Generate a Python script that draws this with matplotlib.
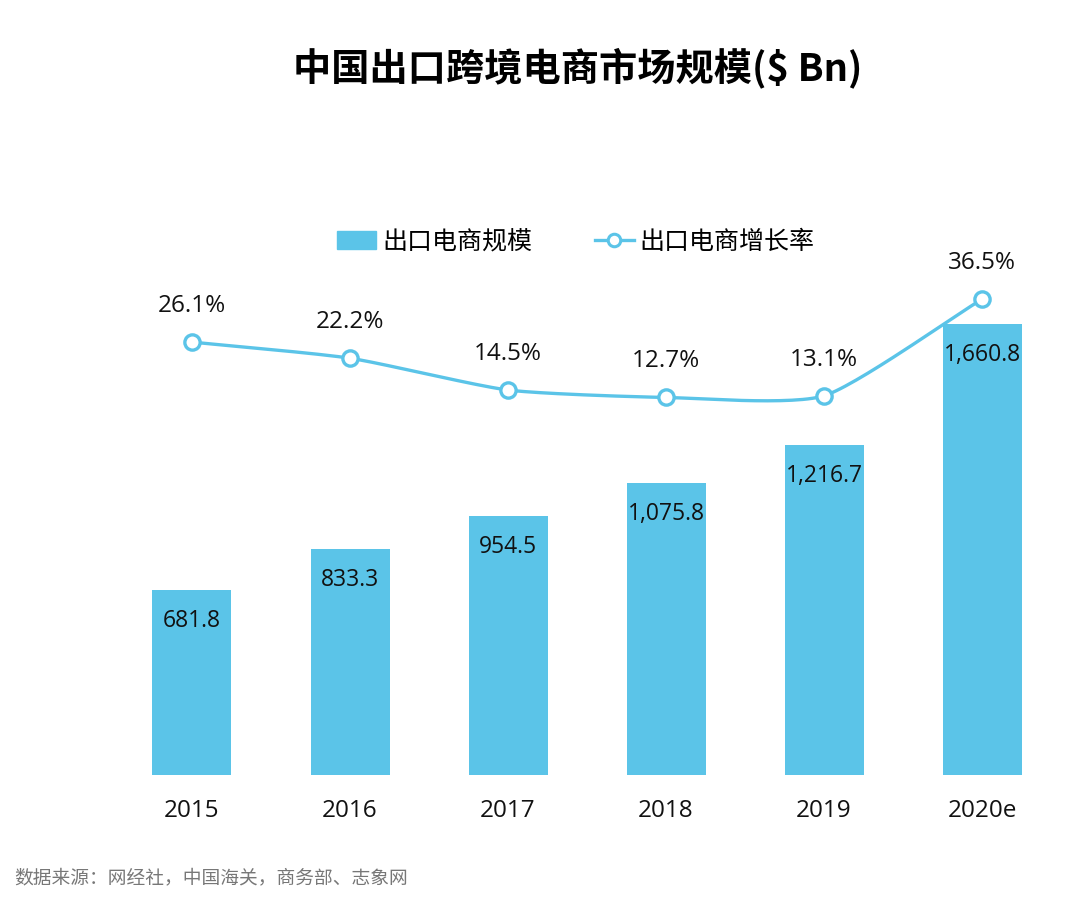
import numpy as np
import matplotlib.pyplot as plt
from matplotlib.lines import Line2D
from matplotlib.patches import Patch

plt.rcParams['font.family'] = ['Noto Sans CJK SC', 'DejaVu Sans']

years = ['2015', '2016', '2017', '2018', '2019', '2020e']
market_size = [681.8, 833.3, 954.5, 1075.8, 1216.7, 1660.8]
growth_rate = [26.1, 22.2, 14.5, 12.7, 13.1, 36.5]
bar_labels = ['681.8', '833.3', '954.5', '1,075.8', '1,216.7', '1,660.8']

blue = '#5bc4e8'
num_font = ['Open Sans', 'DejaVu Sans']

def smooth(xs, ys, steps=30):
    # catmull-rom style smoothing, like a spreadsheet "smoothed line"
    xs = np.asarray(xs, float)
    ys = np.asarray(ys, float)
    px = np.concatenate([[2 * xs[0] - xs[1]], xs, [2 * xs[-1] - xs[-2]]])
    py = np.concatenate([[2 * ys[0] - ys[1]], ys, [2 * ys[-1] - ys[-2]]])
    out_x, out_y = [], []
    for i in range(1, len(px) - 2):
        t = np.linspace(0, 1, steps)
        for p, out in ((px, out_x), (py, out_y)):
            p0, p1, p2, p3 = p[i - 1], p[i], p[i + 1], p[i + 2]
            m1 = (p2 - p0) / 2 * 0.6
            m2 = (p3 - p1) / 2 * 0.6
            h00 = 2 * t**3 - 3 * t**2 + 1
            h10 = t**3 - 2 * t**2 + t
            h01 = -2 * t**3 + 3 * t**2
            h11 = t**3 - t**2
            out.extend(h00 * p1 + h10 * m1 + h01 * p2 + h11 * m2)
    return np.array(out_x), np.array(out_y)

fig = plt.figure(figsize=(10.8, 8.97), dpi=100)
W, H = 1080, 897
ax = fig.add_axes([0, 122 / H, 1, (775 - 200) / H])
x = np.arange(len(years))

ax.bar(x, market_size, width=0.5, color=blue, zorder=2)
for xi, v, lab in zip(x, market_size, bar_labels):
    ax.annotate(lab, (xi, v), xytext=(0, -31), textcoords='offset pixels',
                ha='center', va='center', fontsize=16.5, family=num_font,
                color='#111111', zorder=5)

ax.set_xlim(-192 / 158, (W - 192) / 158)
ax.set_ylim(0, 575 / 0.2715)
ax.axis('off')
for xi, yr in zip(x, years):
    ax.annotate(yr, (xi, 0), xytext=(0, -36), textcoords='offset pixels',
                ha='center', va='center', fontsize=17.5, family=num_font,
                color='#111111')

ax2 = ax.twinx()
ax2.set_ylim(-78.7, 60.5)
ax2.axis('off')
sx, sy = smooth(x, growth_rate)
ax2.plot(sx, sy, color=blue, lw=2.4, zorder=3)
ax2.plot(x, growth_rate, linestyle='none', marker='o', markersize=11,
         markerfacecolor='white', markeredgecolor=blue, markeredgewidth=2.4, zorder=4)
for xi, v in zip(x, growth_rate):
    ax2.annotate(f'{v:.1f}%', (xi, v), xytext=(0, 36), textcoords='offset pixels',
                 ha='center', va='center', fontsize=17.5, family=num_font,
                 color='#111111')

handles = [Patch(color=blue),
           Line2D([0], [0], color=blue, lw=2.4, marker='o', markersize=9,
                  markerfacecolor='white', markeredgecolor=blue, markeredgewidth=2.2)]
fig.legend(handles, ['出口电商规模', '出口电商增长率'], loc='center',
           bbox_to_anchor=(576 / W, 1 - 242 / H), ncol=2, frameon=False,
           fontsize=18, handlelength=1.55, handleheight=0.75, columnspacing=2.5,
           handletextpad=0.25)

fig.text(578 / W, 1 - 68 / H, '中国出口跨境电商市场规模($ Bn)', ha='center', va='center',
         fontsize=27.5, fontweight='heavy', color='black')
fig.text(14 / W, 1 - 878 / H, '数据来源：网经社，中国海关，商务部、志象网', ha='left',
         va='center', fontsize=13.5, color='#777777')

fig.savefig('out.png', dpi=100, facecolor='white')
